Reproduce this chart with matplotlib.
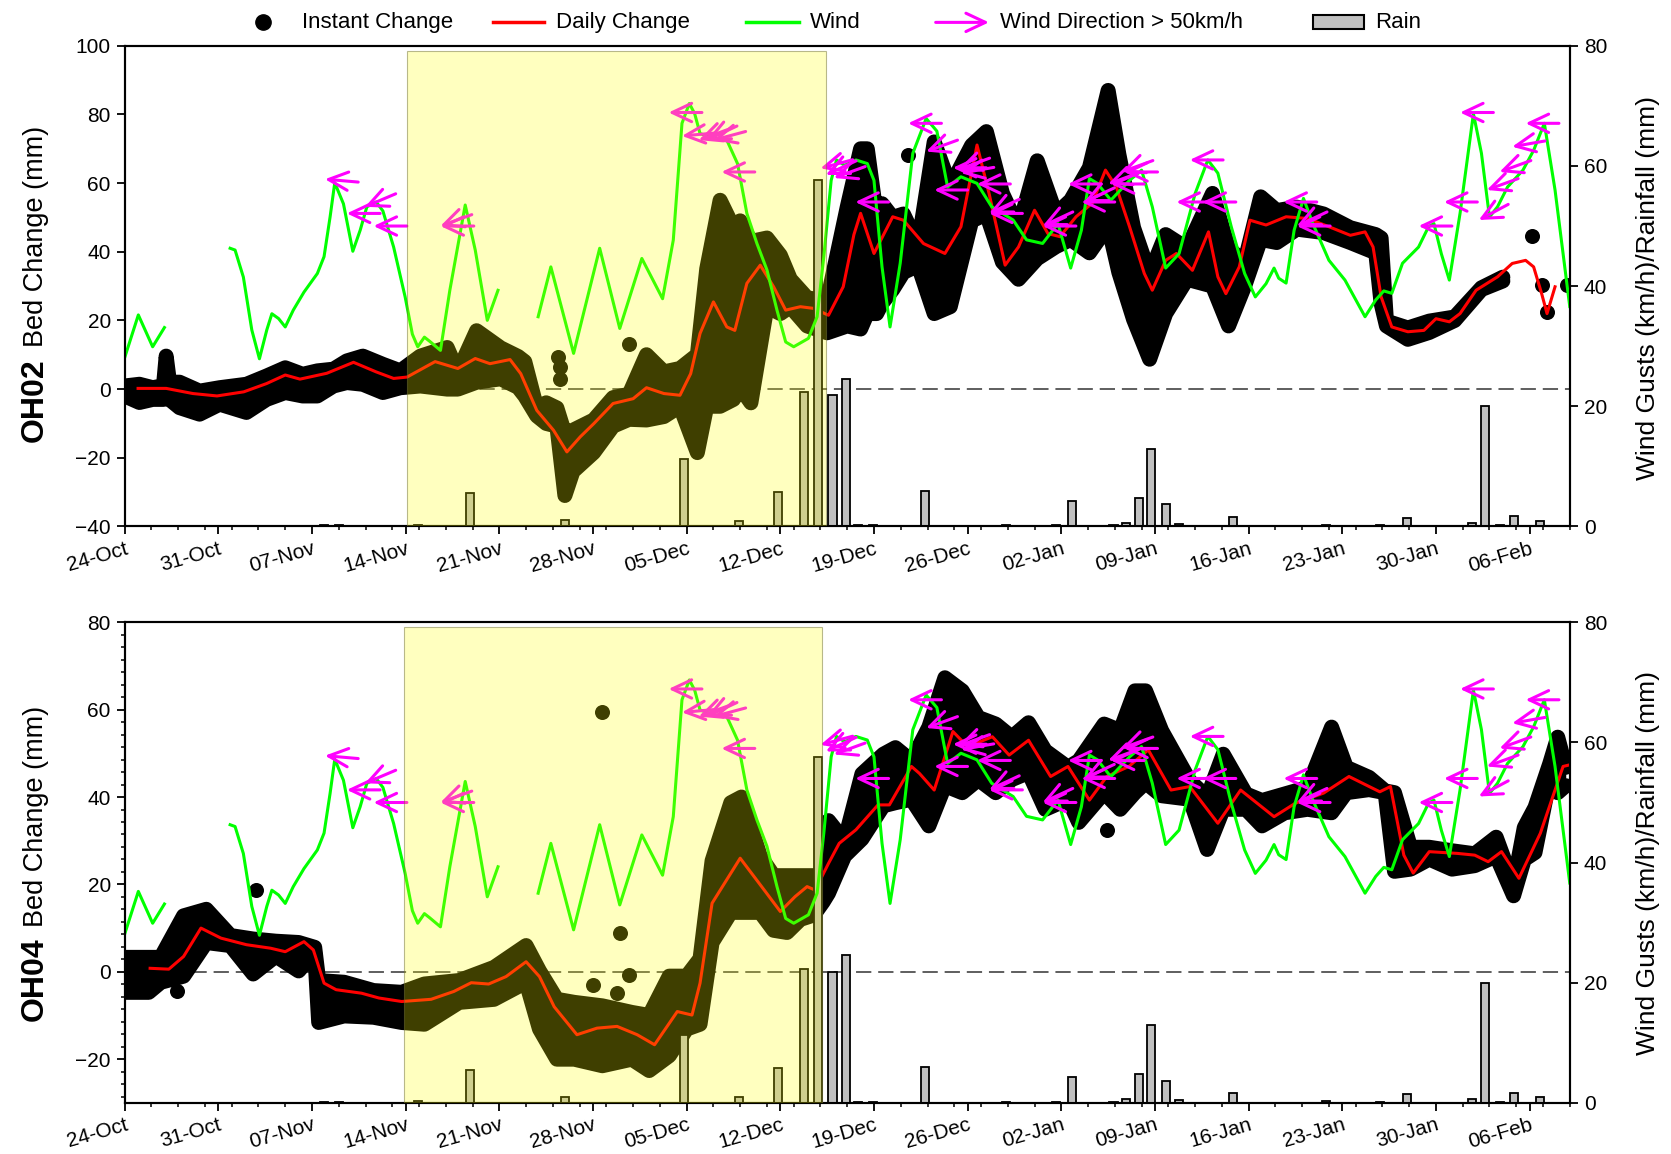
import matplotlib

matplotlib.use("Agg")
import matplotlib.pyplot as plt
import numpy as np
from matplotlib.patches import Rectangle
from matplotlib.ticker import AutoMinorLocator, MultipleLocator

plt.rcParams["font.family"] = ["Liberation Sans", "DejaVu Sans"]

# x values are days after 24-Oct
date_labels = ["24-Oct", "31-Oct", "07-Nov", "14-Nov", "21-Nov", "28-Nov", "05-Dec", "12-Dec",
               "19-Dec", "26-Dec", "02-Jan", "09-Jan", "16-Jan", "23-Jan", "30-Jan", "06-Feb"]

# wind gusts (km/h), shared by both panels, NaN = no record
wind_day = [0.0, 1.02, 2.09, 2.97, np.nan,
            7.88, 8.25, 8.87, 9.5, 10.07, 10.62, 11.0, 11.5, 12.0, 12.6, 13.4, 14.4, 14.9, 15.35, 15.7,
            16.35, 17.05, 17.6, 18.1, 18.8, 19.3, 20.1, 20.96, 21.5, 21.9, 22.4, 22.8, 23.6, 24.3,
            25.45, 26.2, 27.1, 27.9, np.nan,
            30.9, 31.85, 33.55, 35.5, 37.0, 38.65, 40.2, 41.0, 41.65, 42.2, 42.6, 43.0, 44.0, 45.0,
            45.8, 46.5, 47.25, 48.0, 48.75, 49.4, 50.0, 51.1, 51.75, 52.25, 52.8, 53.2, 53.8, 54.65,
            55.5, 56.0, 56.6, 57.2, 57.96, 58.9, 59.9, 60.7, 61.5, 62.5, 63.7, 64.8, 66.4, 67.4, 68.6,
            69.75, 70.7, 71.5, 72.1, 72.7, 73.7, 75.1, 76.0, 76.8, 77.8, 78.8, 80.0, 80.95, 81.7, 82.7,
            83.7, 84.5, 85.3, 85.9, 86.25, 86.8, 87.4, 88.1, 88.8, 90.0, 91.2, 92.7, 93.5, 94.1, 94.7,
            95.5, 96.7, 97.45, 97.85, 98.4, 99.0, 99.8, 100.8, 101.4, 102.0, 102.6, 103.35, 104.5,
            105.3, 106.1, 106.9, 107.5, 108.0]
wind_kmh = [28.1, 35.2, 29.9, 33.1, np.nan,
            46.3, 46.0, 41.5, 32.7, 27.9, 32.7, 35.4, 34.6, 33.2, 36.0, 39.0, 42.1, 44.9, 51.5, 57.2,
            53.7, 45.8, 49.3, 53.2, 54.0, 52.5, 46.5, 38.2, 32.0, 29.9, 31.5, 30.8, 29.3, 39.3,
            53.5, 46.0, 34.3, 39.3, np.nan,
            34.9, 43.2, 28.8, 46.3, 32.95, 44.6, 37.9, 47.65, 67.1, 70.4, 68.7, 65.4, 64.6, 64.3,
            60.4, 52.1, 47.1, 42.7, 36.0, 30.7, 29.9, 31.3, 34.9, 44.9, 57.6, 61.0, 60.1, 61.0,
            60.4, 57.6, 43.2, 33.2, 43.8, 62.1, 67.9, 65.8, 56.5, 58.2, 57.1, 53.2, 51.0, 47.7, 47.1,
            50.4, 43.0, 49.3, 57.9, 57.1, 54.3, 57.6, 59.3, 53.2, 43.0, 45.4, 55.4, 61.0, 58.8, 49.9,
            42.1, 38.2, 40.4, 43.0, 41.3, 40.5, 49.3, 54.6, 50.4, 44.3, 41.0, 34.9, 37.7, 39.2, 38.8,
            43.8, 46.5, 49.9, 50.4, 45.4, 41.0, 52.1, 68.7, 62.1, 51.5, 53.2, 56.5, 59.3,
            62.6, 67.1, 56.0, 45.4, 36.6]

# gusts above 50 km/h: day, gust, arrow heading in degrees (180 = pointing left)
arrow_day = [14.97, 16.6, 17.96, 18.6, 23.6, 23.6, 40.65, 41.65, 42.9, 43.5, 44.0, 44.6, 52.0, 52.4,
             53.0, 54.6, 58.55, 59.9, 60.5, 61.9, 62.3, 62.5, 63.7, 64.6, 64.6, 68.6, 68.6, 70.5, 71.5,
             71.7, 73.5, 73.7, 74.5, 74.7, 78.6, 79.6, 80.55, 86.6, 87.6, 87.6, 96.7, 98.6, 99.8,
             101.2, 101.8, 102.75, 103.7, 104.7]
arrow_kmh = [57.8, 52.1, 53.2, 50.0, 50.0, 50.0, 68.9, 65.0, 64.3, 64.3, 64.3, 59.0, 59.6, 58.5,
             58.0, 54.0, 67.1, 62.4, 56.0, 59.7, 59.4, 58.8, 57.0, 52.1, 52.1, 50.0, 50.0, 57.0, 54.0,
             54.0, 57.0, 57.0, 59.0, 59.0, 54.0, 61.0, 54.0, 54.0, 50.0, 50.0, 50.0, 54.0, 68.9,
             51.0, 56.0, 59.0, 63.2, 67.1]
arrow_deg = [175, 180, 203, 180, 180, 200, 180, 185, 200, 205, 195, 180, 195, 205,
             200, 180, 180, 200, 180, 180, 200, 190, 180, 180, 205, 180, 205, 180, 180,
             205, 200, 180, 200, 180, 180, 180, 180, 180, 180, 205, 180, 180, 180,
             208, 200, 200, 190, 180]

# daily rainfall (mm)
rain_day = [14.9, 16.0, 21.9, 25.8, 32.9, 41.8, 45.9, 48.8, 50.8, 51.8, 52.9, 53.9, 54.8, 55.9,
            59.8, 65.9, 69.6, 70.8, 73.9, 74.8, 75.8, 76.7, 77.8, 78.8, 82.8, 89.8, 93.8, 95.8,
            100.7, 101.7, 102.8, 103.8, 105.8]
rain_mm = [0.2, 0.2, 0.3, 5.5, 1.0, 11.3, 0.9, 5.8, 22.3, 57.6, 21.8, 24.6, 0.2, 0.2,
           5.9, 0.2, 0.2, 4.3, 0.2, 0.6, 4.8, 12.9, 3.7, 0.4, 1.6, 0.3, 0.2, 1.4,
           0.6, 20.0, 0.2, 1.7, 0.9]

# OH02: instant change band (lowest / highest reading), isolated readings, daily change
oh02_day = [0.0, 1.1, 2.1, 2.9, 3.1, 3.35, 4.1, 5.6, 7.1, 9.1, 10.6, 12.0, 13.3, 14.4, 15.6, 16.6,
            17.8, 19.3, 20.6, 22.1, 24.1, 24.9, 26.3, 28.1, 29.4, 29.9, 30.8, 31.5, 32.3, 32.9, 33.5,
            35.05, 36.5, 37.7, 39.0, 40.3, 41.5, 42.8, 43.5, 44.5, 45.5, 46.0, 46.8, 48.0, 49.0,
            49.75, 51.0, 52.5, 54.0, 55.0, 55.5, 56.2, 56.6, 57.4, 58.2, 59.3, 60.5, 61.7, 63.3,
            64.4, 65.6, 66.8, 68.2, 69.6, 70.7, 72.1, 73.5, 74.3, 75.4, 76.6, 77.8, 79.4, 81.3,
            82.5, 83.7, 84.9, 86.1, 87.6, 89.6, 91.6, 93.5, 93.9, 94.3, 95.9, 97.5, 99.4, 101.4,
            103.0]
oh02_lo = [-2.0, -3.9, -3.0, -3.0, -2.0, -3.0, -5.4, -7.3, -4.4, -6.8, -3.0, -1.0, -2.0, -2.0, 0.9,
           1.9, 1.4, -1.0, 0.4, 0.9, 0.0, 0.0, 2.0, 3.0, 0.5, -2.0, -7.8, -10.0, -10.8, -31.0, -24.0,
           -18.5, -10.8, -8.8, -9.0, -8.0, -5.0, -18.5, -5.0, -5.0, -3.0, 0.5, -4.0, 24.0, 22.0,
           24.0, 18.4, 16.4, 18.4, 17.5, 22.0, 22.0, 25.0, 29.0, 34.0, 36.0, 22.0, 24.0, 49.0,
           51.0, 37.0, 32.0, 38.0, 41.5, 43.6, 39.7, 47.5, 34.0, 20.3, 8.7, 22.0, 32.0, 30.0,
           18.4, 30.0, 43.6, 42.7, 46.6, 45.6, 42.7, 39.7, 25.0, 18.4, 14.5, 16.5, 20.0, 29.0,
           31.5]
oh02_hi = [0.9, 1.4, 0.4, 1.0, 9.6, 2.0, 2.0, -0.6, 0.4, 1.4, 3.8, 6.2, 4.3, 5.3, 5.8, 8.2,
           9.6, 7.2, 5.3, 9.6, 12.1, 5.0, 17.0, 12.0, 9.5, 8.0, -5.5, -4.0, -5.5, -13.0, -12.0,
           -9.0, -2.5, -1.5, 10.0, 5.0, 6.0, 10.0, 35.0, 55.0, 47.0, 49.0, 43.0, 44.0, 39.0,
           32.0, 26.6, 25.6, 53.0, 70.0, 70.0, 50.0, 54.0, 50.0, 51.0, 42.0, 72.0, 59.0, 71.0,
           75.0, 57.0, 47.0, 66.5, 51.0, 55.0, 64.5, 87.0, 68.4, 47.0, 33.4, 45.0, 41.0, 57.0,
           41.0, 37.0, 56.0, 52.0, 53.0, 51.0, 47.0, 45.0, 44.0, 19.8, 17.8, 19.8, 21.0, 29.5,
           32.6]
oh02_dot_day = [32.4, 32.5, 32.55, 37.7, 58.55, 105.2, 105.9, 106.3, 107.8]
oh02_dot_val = [9.4, 6.3, 3.0, 13.2, 68.2, 44.7, 30.3, 22.4, 30.3]
oh02_daily_day = [1.0, 3.1, 5.1, 6.9, 8.9, 10.6, 12.0, 13.1, 15.1, 17.1, 18.8, 20.1, 21.1, 23.2, 24.9,
                  26.2, 27.3, 28.8, 29.6, 30.8, 32.05, 33.05, 34.05, 35.05, 36.5, 38.0, 39.0, 40.3,
                  41.5, 42.3, 43.0, 44.0, 45.0, 45.6, 46.5, 47.5, 48.5, 49.4, 50.5, 51.5, 52.6, 53.7,
                  54.5, 55.0, 56.0, 57.4, 58.2, 59.7, 61.3, 62.5, 63.7, 64.6, 65.8, 66.8, 68.0, 69.0,
                  69.9, 71.1, 72.3, 73.3, 74.1, 75.1, 76.2, 76.8, 77.8, 78.6, 79.8, 81.0, 81.7, 82.3,
                  83.3, 84.1, 85.3, 86.8, 88.4, 90.0, 91.6, 92.7, 93.3, 93.9, 94.7, 95.9, 97.1, 98.0,
                  99.0, 99.8, 101.0, 102.6, 103.7, 104.7, 105.3, 105.9, 106.3, 106.9]
oh02_daily_mm = [0.2, 0.2, -1.3, -2.0, -0.8, 1.6, 4.1, 2.9, 4.6, 7.8, 5.0, 3.1, 3.5, 8.0, 6.0,
                 8.9, 7.4, 8.6, 4.5, -6.2, -12.0, -18.3, -13.9, -10.1, -4.2, -2.8, 0.4, -1.3,
                 -1.8, 4.5, 16.2, 25.4, 18.1, 17.1, 30.8, 36.1, 29.8, 23.0, 24.0, 23.5, 21.5, 29.8,
                 45.0, 51.2, 39.5, 50.2, 49.2, 42.4, 39.5, 47.3, 71.1, 57.0, 36.1, 41.4, 52.1, 45.3,
                 44.4, 50.2, 54.1, 63.8, 59.0, 47.3, 33.7, 28.8, 37.5, 39.5, 34.6, 45.8, 32.7, 27.8,
                 35.6, 49.2, 47.8, 50.2, 49.7, 47.3, 44.8, 45.8, 41.4, 26.9, 18.1, 16.7, 17.1, 20.5,
                 19.6, 22.0, 28.8, 32.7, 36.6, 37.5, 35.6, 27.8, 22.0, 29.8]

# OH04
oh04_day = [0.0, 1.8, 2.7, 4.4, 6.1, 7.9, 9.6, 11.3, 13.0, 14.2, 14.5, 16.4, 18.6, 20.7, 22.4, 25.0,
            27.6, 30.0, 31.0, 32.3, 33.6, 35.7, 37.9, 39.2, 40.7, 42.0, 43.0, 43.9, 45.3, 46.1, 47.5,
            48.5, 49.5, 50.5, 51.5, 52.2, 52.6, 53.8, 55.1, 56.7, 57.6, 58.8, 60.1, 61.3, 62.6,
            63.8, 65.1, 66.3, 67.55, 68.8, 70.5, 71.3, 73.2, 74.4, 75.5, 76.3, 77.5, 79.6, 80.9,
            82.1, 83.8, 85.0, 86.7, 88.4, 90.2, 91.3, 93.0, 94.2, 94.9, 96.1, 97.5, 99.2, 100.9,
            102.5, 103.8, 104.6, 105.4, 106.5, 107.1, 107.7]
oh04_lo = [-4.7, -4.7, -2.4, -1.0, 6.7, 6.0, -0.5, 3.6, 0.2, 4.4, -11.6, -10.1, -10.4, -11.6, -12.0,
           -7.0, -6.3, -2.4, -13.1, -20.0, -20.0, -21.5, -20.0, -22.6, -19.2, -13.1, -12.0, 6.7,
           13.6, 13.6, 13.6, 9.5, 9.0, 12.0, 13.0, 16.0, 18.0, 26.5, 30.4, 38.0, 38.7, 39.5, 33.4,
           42.6, 41.0, 44.0, 41.0, 44.0, 45.6, 37.2, 39.5, 34.2, 41.0, 37.2, 41.0, 43.3, 40.3,
           39.5, 28.0, 37.2, 37.2, 33.4, 36.4, 37.2, 36.4, 41.0, 41.7, 41.0, 23.0, 23.5, 25.8,
           23.5, 24.3, 26.5, 17.4, 25.7, 27.3, 44.0, 41.0, 42.6]
oh04_hi = [3.3, 3.3, 3.3, 12.8, 14.3, 8.3, 7.5, 7.0, 6.7, 5.6, -2.0, -2.4, -4.3, -4.7, -2.8,
           -2.0, 1.0, 6.0, 0.2, -6.3, -7.0, -7.8, -9.3, -10.0, -1.0, -1.0, 3.0, 25.4,
           38.7, 40.0, 26.5, 22.0, 22.0, 22.0, 22.0, 22.3, 34.6, 30.0, 45.3, 49.8, 51.3, 48.3, 56.0,
           67.3, 64.3, 58.2, 56.7, 53.7, 57.0, 50.6, 46.8, 48.3, 56.7, 55.2, 64.3, 64.3, 55.2,
           43.7, 40.0, 49.8, 40.7, 39.2, 40.7, 42.2, 56.0, 46.8, 44.5, 41.4, 41.0, 28.5, 28.5,
           27.7, 27.0, 30.8, 20.0, 33.0, 37.6, 47.6, 53.7, 46.8]
oh04_dot_day = [3.9, 9.8, 35.0, 35.7, 36.8, 37.0, 37.7, 73.4]
oh04_dot_val = [-4.5, 18.8, -3.0, 59.5, -4.9, 8.8, -0.7, 32.5]
oh04_daily_day = [1.9, 3.3, 4.4, 5.7, 7.2, 9.1, 10.9, 12.0, 13.4, 14.1, 14.9, 15.8, 17.7, 19.0, 20.7,
                  22.9, 24.6, 25.9, 27.2, 28.5, 30.0, 31.0, 32.1, 33.8, 35.3, 36.8, 38.3, 39.6, 41.3,
                  42.4, 43.0, 43.9, 46.0, 47.8, 49.0, 50.1, 51.0, 51.6, 52.6, 53.4, 54.65, 56.3,
                  57.15, 58.8, 59.4, 60.5, 61.9, 63.0, 64.85, 66.1, 67.55, 69.2, 70.5, 72.1, 73.4,
                  75.05, 76.5, 78.2, 79.6, 81.7, 83.4, 85.9, 87.5, 89.6, 91.5, 93.8, 94.6, 95.6, 96.3,
                  97.5, 99.6, 100.9, 101.9, 102.9, 104.2, 105.8, 107.5, 107.9]
oh04_daily_mm = [0.8, 0.6, 3.5, 10.0, 7.7, 6.2, 5.4, 4.6, 6.9, 5.0, -2.6, -4.1, -4.9, -6.0, -6.8,
                 -6.3, -4.5, -2.5, -2.8, -1.1, 2.3, -1.1, -8.0, -14.4, -12.9, -12.5, -14.4, -16.7,
                 -9.1, -9.9, -2.6, 15.7, 26.0, 18.7, 13.8, 17.2, 19.5, 18.7, 24.8, 29.4, 32.5, 38.2,
                 38.2, 47.0, 45.4, 41.6, 55.0, 51.5, 53.8, 49.6, 53.0, 44.7, 47.0, 39.3, 44.7,
                 47.0, 50.8, 41.6, 42.4, 34.0, 41.6, 35.5, 38.6, 40.9, 44.7, 41.2, 42.4, 26.7, 22.6,
                 27.5, 27.1, 26.7, 25.2, 27.5, 21.4, 31.7, 47.0, 47.3]

shade_oh02 = (21.1, 52.4)
shade_oh04 = (20.9, 52.15)

W, H = 1568, 1083  # layout is measured on this grid
fig = plt.figure(figsize=(16.71, 11.54), dpi=100)


def rect(x0, y0, x1, y1):
    return [x0 / W, 1 - y1 / H, (x1 - x0) / W, (y1 - y0) / H]


def style_axis(axis):
    for spine in axis.spines.values():
        spine.set_linewidth(1.5)
    axis.tick_params(which="major", direction="out", length=6, width=1.3, labelsize=15, pad=4)
    axis.tick_params(which="minor", direction="out", length=3, width=1.1)


def draw_panel(box, day, lo, hi, dot_day, dot_val, daily_day, daily_mm, ylim, yticks, shade, minor):
    ax = fig.add_axes(rect(*box))
    ax2 = ax.twinx()
    ax.set_xlim(0, 108)
    ax.set_ylim(*ylim)
    ax2.set_ylim(0, 80)

    ax.axhline(0, color="#333333", lw=1.1, dashes=(10, 4.5), zorder=1)
    ax.fill_between(day, lo, hi, color="black", lw=0, zorder=2)
    for edge in (lo, hi):
        ax.plot(day, edge, color="black", lw=10.8, solid_capstyle="round", solid_joinstyle="round", zorder=2)
    ax.scatter(dot_day, dot_val, s=117, color="black", lw=0, zorder=2)
    ax.plot(daily_day, daily_mm, color="#ff0000", lw=2.2, zorder=3)

    ax2.bar(rain_day, rain_mm, width=0.6, color="#c0c0c0", edgecolor="black", lw=1.3, zorder=1)
    ax2.plot(wind_day, wind_kmh, color="#00ff00", lw=2.2, zorder=2)
    length = 24.0
    for d, v, a in zip(arrow_day, arrow_kmh, arrow_deg):
        t = np.radians(a)
        ax2.annotate("", xy=(d, v), xytext=(-length * np.cos(t), -length * np.sin(t)),
                     textcoords="offset points", zorder=3,
                     arrowprops=dict(arrowstyle="->,head_length=0.7,head_width=0.33", mutation_scale=20,
                                     color="#ff00ff", lw=2.2, shrinkA=0, shrinkB=0))
    ax2.axvspan(shade[0], shade[1], ymax=0.99, facecolor=(1, 1, 0, 0.25),
                edgecolor=(0.45, 0.45, 0.2, 0.5), lw=0.8, zorder=10)

    ax.set_xticks(np.arange(len(date_labels)) * 7)
    ax.set_xticklabels(date_labels, rotation=16, ha="right", va="top", rotation_mode="anchor")
    ax.xaxis.set_minor_locator(MultipleLocator(2))
    ax.set_yticks(yticks)
    if minor:
        ax.yaxis.set_minor_locator(AutoMinorLocator(7))
    ax2.set_yticks([0, 20, 40, 60, 80])
    style_axis(ax)
    style_axis(ax2)
    ax.tick_params(axis="x", pad=3, labelsize=15)
    return ax, ax2


draw_panel((117, 43, 1473, 494), oh02_day, oh02_lo, oh02_hi, oh02_dot_day, oh02_dot_val,
           oh02_daily_day, oh02_daily_mm, (-40, 100), np.arange(-40, 101, 20), shade_oh02, False)
draw_panel((117, 584, 1473, 1035), oh04_day, oh04_lo, oh04_hi, oh04_dot_day, oh04_dot_val,
           oh04_daily_day, oh04_daily_mm, (-30, 80), np.arange(-20, 81, 20), shade_oh04, True)

# axis titles
for name, start, rest in (("OH02", 415, 326), ("OH04", 958, 870)):
    fig.text(40 / W, 1 - start / H, name, rotation=90, rotation_mode="anchor", ha="left",
             va="baseline", fontsize=23, fontweight="bold")
    fig.text(40 / W, 1 - rest / H, "Bed Change (mm)", rotation=90, rotation_mode="anchor",
             ha="left", va="baseline", fontsize=19.5)
for centre in (270, 810):
    fig.text(1546 / W, 1 - centre / H, "Wind Gusts (km/h)/Rainfall (mm)", rotation=90,
             ha="center", va="center", fontsize=19)

# legend row
leg = fig.add_axes([0, 0, 1, 1])
leg.set_xlim(0, W)
leg.set_ylim(H, 0)
leg.axis("off")
ly = 21
leg.plot([247], [ly], "o", color="black", ms=11)
leg.text(283, ly, "Instant Change", va="center", fontsize=16)
leg.plot([463, 510], [ly, ly], color="#ff0000", lw=2.5)
leg.text(522, ly, "Daily Change", va="center", fontsize=16)
leg.plot([700, 750], [ly, ly], color="#00ff00", lw=2.5)
leg.text(760, ly, "Wind", va="center", fontsize=16)
leg.annotate("", xy=(928, ly), xytext=(878, ly),
             arrowprops=dict(arrowstyle="->,head_length=0.7,head_width=0.33", mutation_scale=20,
                             color="#ff00ff", lw=2.2, shrinkA=0, shrinkB=0))
leg.text(938, ly, "Wind Direction > 50km/h", va="center", fontsize=16)
leg.add_patch(Rectangle((1232, 14.5), 48, 13, facecolor="#c0c0c0", edgecolor="black", lw=1.5))
leg.text(1290, ly, "Rain", va="center", fontsize=16)

fig.savefig("out.png", dpi=100)
